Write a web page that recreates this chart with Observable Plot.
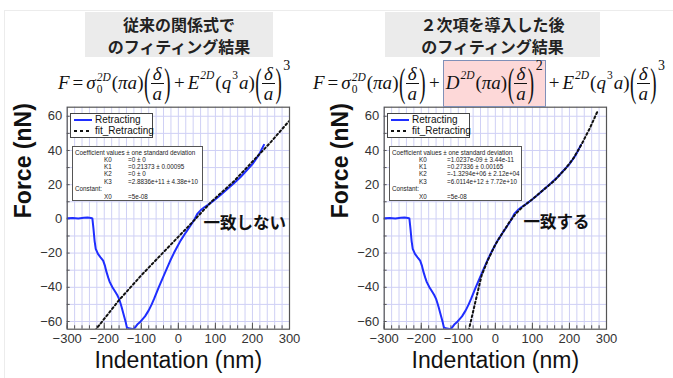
<!DOCTYPE html>
<html><head><meta charset="utf-8">
<script src="https://cdn.jsdelivr.net/npm/d3@7"></script>
<script src="https://cdn.jsdelivr.net/npm/@observablehq/plot@0.6"></script>
<style>
html,body{margin:0;padding:0;background:#fff;}
body{width:673px;height:378px;position:relative;overflow:hidden;font-family:"Liberation Sans",Arial,sans-serif;}
.frameline{position:absolute;left:4px;top:10px;width:680px;height:400px;border-left:1px solid #ececec;border-top:1px solid #ececec;}
.title{position:absolute;top:12px;height:45px;background:#ebebeb;font-family:"Noto Sans CJK JP",sans-serif;font-weight:bold;font-size:16px;color:#222;}
.title div{position:absolute;left:0;right:0;text-align:center;line-height:23px;}
.eq{position:absolute;display:flex;align-items:center;font-family:"Liberation Serif","DejaVu Serif",serif;font-size:19px;color:#111;white-space:nowrap;height:46px;}
.i{font-style:italic;}
.op{margin:0 3px;}
.frac{display:inline-flex;flex-direction:column;align-items:center;line-height:19px;}
.frac .n{border-bottom:1.3px solid #111;padding:0 2px;}
.bp{display:inline-block;transform:scaleY(2.15);margin:0 0.5px;}
.sup{position:relative;top:-8px;font-size:11.5px;margin:0 1px;}
.sup2{position:relative;top:-17px;font-size:14px;margin-left:1px;}
.ss{display:inline-flex;flex-direction:column;font-size:11.5px;line-height:12px;margin:0 1px;}
.pink{display:flex;align-items:center;background:#fdd8d8;border:1px solid #8090b8;height:47px;box-sizing:border-box;padding:0 2px;}
.legend{position:absolute;width:83px;height:25px;border:1px solid #444;background:#fff;box-sizing:border-box;font-size:10px;color:#111;}
.legend div{position:absolute;left:24px;}
.legend svg{position:absolute;left:2px;}
.coef{position:absolute;height:55px;border:1.3px solid #555;background:#fff;box-sizing:border-box;font-size:6.3px;color:#222;}
.coef div{position:absolute;white-space:nowrap;}
</style>
</head><body>
<div class="frameline"></div>
<div class="title" style="left:85px;width:188px;"><div style="top:0.5px">従来の関係式で</div><div style="top:23px">のフィティング結果</div></div>
<div class="title" style="left:385px;width:215px;"><div style="top:0.5px">２次項を導入した後</div><div style="top:23px">のフィティング結果</div></div>

<div id="plots"></div>

<div class="eq" id="eqL" style="left:58px;top:60px;">
 <span class="i">F</span><span class="op">=</span><span class="i">σ</span><span class="ss"><span class="i">2D</span><span>0</span></span>(<span class="i">πa</span>)<span class="bp">(</span><span class="frac"><span class="n i">δ</span><span class="i">a</span></span><span class="bp">)</span><span class="op">+</span><span class="i">E</span><span class="sup"><span class="i">2D</span></span>(<span class="i">q</span><span class="sup">3</span><span class="i">a</span>)<span class="bp">(</span><span class="frac"><span class="n i">δ</span><span class="i">a</span></span><span class="bp">)</span><span class="sup2">3</span>
</div>

<div class="eq" id="eqR" style="left:313px;top:60px;">
 <span class="i">F</span><span class="op">=</span><span class="i">σ</span><span class="ss"><span class="i">2D</span><span>0</span></span>(<span class="i">πa</span>)<span class="bp">(</span><span class="frac"><span class="n i">δ</span><span class="i">a</span></span><span class="bp">)</span><span class="op">+</span><span class="pink"><span class="i">D</span><span class="sup"><span class="i">2D</span></span>(<span class="i">πa</span>)<span class="bp">(</span><span class="frac"><span class="n i">δ</span><span class="i">a</span></span><span class="bp">)</span><span class="sup2">2</span></span><span class="op">+</span><span class="i">E</span><span class="sup"><span class="i">2D</span></span>(<span class="i">q</span><span class="sup">3</span><span class="i">a</span>)<span class="bp">(</span><span class="frac"><span class="n i">δ</span><span class="i">a</span></span><span class="bp">)</span><span class="sup2">3</span>
</div>

<script>
// ---- data ----
const xTicks = [-300, -200, -100, 0, 100, 200, 300];
const yTicks = [-60, -40, -20, 0, 20, 40, 60];
const xLabel = "Indentation (nm)";
const yLabel = "Force (nN)";
const seriesNames = ["Retracting", "fit_Retracting"];

const retractX = [-300,-285,-270,-255,-245,-236,-232,-229,-226,-223,-217,-210,-203,-198,-194,-189,-185,-178,-172,-165,-160,-156,-153,-147,-142,-139,-134,-127,-120,-115,-111,-104,-100,-90,-80,-72,-65,-53,-44,-35,-22,-12,-3,6,20,33,43,51,60,70,80,90,100,114,130,150,168,186,200,208,216,222,231];
const retractF = [0.3,0.5,0.2,0.6,0.8,0.5,0.2,-6,-13,-17.5,-20.5,-22.5,-24.4,-27.5,-31,-34.5,-37,-40,-42,-44.5,-46.8,-49.5,-51.7,-56.5,-60.5,-63.4,-64,-64.2,-64.5,-63,-61.8,-60.5,-59.5,-57,-53.5,-50,-46.5,-40,-35.5,-31,-24.5,-20,-16.3,-12.7,-8,-3.9,-0.5,2.9,5,6.8,8.2,9.8,11.5,14,17,20.8,24.5,28.7,32,34.5,37,39.4,43.3];

const fitLeftX = [-225,-160,-100,-30,35,90,150,200,250,298];
const fitLeftF = [-65.3,-47.5,-33,-17.2,-2.6,10.2,22,33.5,45,57];

const fitRightX = [-72,-55,-37,-20,0,20,40,55,75,100,130,160,190,210,232,255,277];
const fitRightF = [-65.3,-49.5,-33,-24,-15,-8,-1.2,3,7.3,11.5,17,22.5,29.5,35.2,43.3,53,63.5];

const annLeft = {text: "一致しない", x: 68, y: -2.7};
const annRight = {text: "一致する", x: 76, y: -2.5};

const coefLeft = [["K0","=0 ± 0"],["K1","=0.21373 ± 0.00095"],["K2","=0 ± 0"],["K3","=2.8836e+11 ± 4.38e+10"]];
const coefRight = [["K0","=1.0237e-09 ± 3.44e-11"],["K1","=0.27336 ± 0.00165"],["K2","=-1.3294e+06 ± 2.12e+04"],["K3","=6.0114e+12 ± 7.72e+10"]];
const constLine = ["X0","=5e-08"];

// ---- drawing ----
const xMinor = d3.range(-300, 301, 20);
const yMinor = d3.range(-60, 61, 10);
const yDom = [-64.5, 65.3];

function panel(fitX, fitF, ann) {
  const retract = retractX.map((x, i) => ({x, f: retractF[i]}));
  const fit = fitX.map((x, i) => ({x, f: fitF[i]}));
  return Plot.plot({
    width: 320, height: 278,
    marginLeft: 66.7, marginRight: 31, marginTop: 6.7, marginBottom: 49.3,
    style: {fontFamily: "Liberation Sans, Arial, sans-serif", fontSize: "13px", color: "#333", background: "transparent", overflow: "visible"},
    x: {domain: [-300, 300], label: null},
    y: {domain: yDom, label: null},
    marks: [
      Plot.gridX(xMinor, {stroke: "#cfd0f5", strokeOpacity: 1}),
      Plot.gridY(yMinor, {stroke: "#cfd0f5", strokeOpacity: 1}),
      Plot.ruleX(xMinor, {y1: yDom[0], y2: yDom[0] + 2, stroke: "#555"}),
      Plot.ruleX(xTicks, {y1: yDom[0], y2: yDom[0] + 3.5, stroke: "#555"}),
      Plot.ruleY(yMinor, {x1: -300, x2: -292, stroke: "#555"}),
      Plot.line(retract, {x: "x", y: "f", stroke: "#1f2eff", strokeWidth: 2, clip: true}),
      Plot.line(fit, {x: "x", y: "f", stroke: "#111", strokeWidth: 2, strokeDasharray: "2,2.6", clip: true}),
      Plot.frame({stroke: "#555", strokeWidth: 1.2}),
      Plot.axisX(xTicks, {tickSize: 0, tickPadding: 5, label: null, fontSize: 13}),
      Plot.axisY(yTicks, {tickSize: 0, tickPadding: 5, label: null, fontSize: 13}),
      Plot.text([ann], {x: "x", y: "y", text: "text", textAnchor: "start", fontSize: 16.5, fontWeight: "bold", fontFamily: "Noto Sans CJK JP", fill: "#111"}),
      Plot.text([xLabel], {frameAnchor: "bottom", dy: 31, lineAnchor: "middle", fontSize: 23, fill: "#111"}),
      Plot.text([yLabel], {frameAnchor: "left", dx: -44, rotate: -90, fontSize: 23, fontWeight: "bold", fill: "#111"})
    ]
  });
}

const host = document.getElementById("plots");
const pL = panel(fitLeftX, fitLeftF, annLeft);
const pR = panel(fitRightX, fitRightF, annRight);
[[pL, 0], [pR, 316.6]].forEach(([p, l]) => {
  p.style.position = "absolute"; p.style.left = l + "px"; p.style.top = "100px";
  host.appendChild(p);
});

function legend(left) {
  const d = document.createElement("div");
  d.className = "legend";
  d.style.left = left + "px"; d.style.top = "113px";
  d.innerHTML =
    `<svg width="20" height="24" style="top:0"><line x1="1" x2="19" y1="6" y2="6" stroke="#1f2eff" stroke-width="2"/><line x1="1" x2="19" y1="17" y2="17" stroke="#111" stroke-width="2" stroke-dasharray="3,3"/></svg>` +
    `<div style="top:0px">${seriesNames[0]}</div><div style="top:11px">${seriesNames[1]}</div>`;
  document.body.appendChild(d);
}
function coefBox(left, width, rows, c1, c2) {
  const d = document.createElement("div");
  d.className = "coef";
  d.style.left = left + "px"; d.style.top = "146px"; d.style.width = width + "px";
  let h = `<div style="left:2px;top:1.5px">Coefficient values ± one standard deviation</div>`;
  rows.forEach((r, i) => {
    h += `<div style="left:${c1}px;top:${9 + i * 7.2}px">${r[0]}</div><div style="left:${c2}px;top:${9 + i * 7.2}px">${r[1]}</div>`;
  });
  h += `<div style="left:2px;top:${9 + 4 * 7.2}px">Constant:</div>`;
  h += `<div style="left:${c1}px;top:${9 + 5 * 7.2 + 0.6}px">${constLine[0]}</div><div style="left:${c2}px;top:${9 + 5 * 7.2 + 0.6}px">${constLine[1]}</div>`;
  d.innerHTML = h;
  document.body.appendChild(d);
}
legend(70); legend(387);
coefBox(72, 131, coefLeft, 31, 55);
coefBox(389, 133, coefRight, 29, 57);
</script>
</body></html>
